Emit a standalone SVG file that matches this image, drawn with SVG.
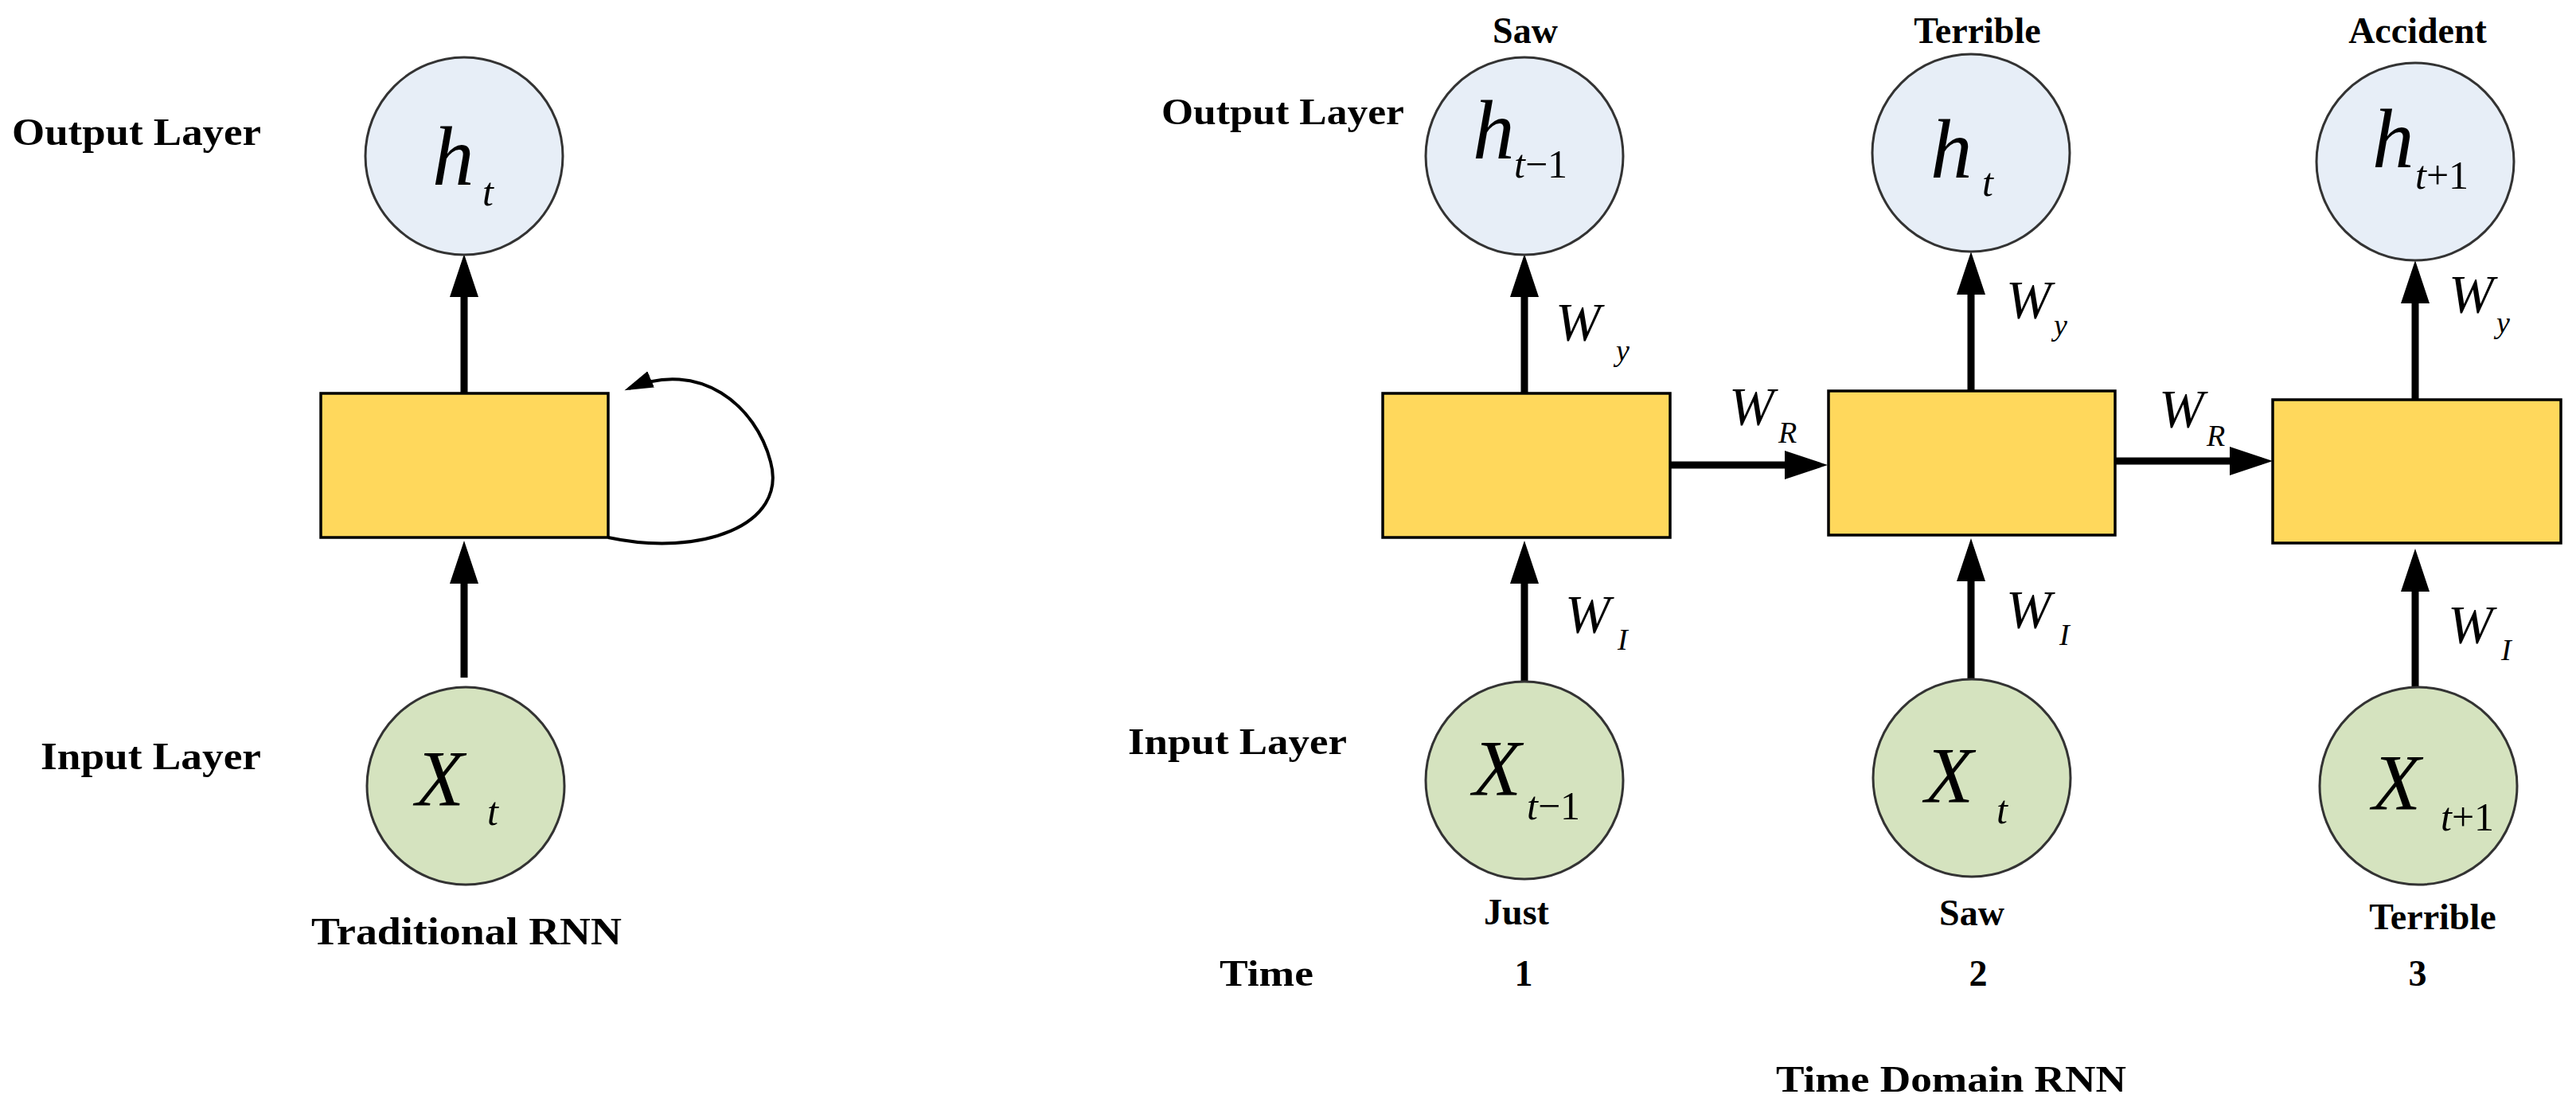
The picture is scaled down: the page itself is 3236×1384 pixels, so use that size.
<svg xmlns="http://www.w3.org/2000/svg" width="3236" height="1384" viewBox="0 0 3236 1384">
<style>
.lbl{font-family:"Liberation Serif",serif;font-weight:bold;fill:#000}
.m{font-family:"Liberation Serif",serif;font-style:italic;fill:#000}
.up{font-style:normal}
.out{fill:#E7EEF7;stroke:#333;stroke-width:3}
.in{fill:#D5E3BF;stroke:#333;stroke-width:3}
.box{fill:#FFD85C;stroke:#000;stroke-width:3.5}
.arr{stroke:#000;stroke-width:9;fill:none;marker-end:url(#ah)}
</style>
<defs>
<marker id="ah" markerUnits="userSpaceOnUse" markerWidth="60" markerHeight="40" refX="40" refY="18" orient="auto"><path d="M0,0 L54,18 L0,36 Z" fill="#000"/></marker>
<marker id="ah2" markerUnits="userSpaceOnUse" markerWidth="40" markerHeight="30" refX="30" refY="11" orient="auto"><path d="M0,0 L36,11 L0,22 Z" fill="#000"/></marker>
</defs>
<rect width="3236" height="1384" fill="#fff"/>
<g id="connectors">
<line class="arr" x1="583" y1="494" x2="583" y2="333"/>
<line class="arr" x1="583" y1="851" x2="583" y2="693"/>
<path d="M764,675 C880,700 990,660 968,580 C950,510 880,450 790,488" fill="none" stroke="#000" stroke-width="4" marker-end="url(#ah2)"/>
<line class="arr" x1="1915" y1="494" x2="1915" y2="333"/>
<line class="arr" x1="1915" y1="856" x2="1915" y2="693"/>
<line class="arr" x1="2476" y1="491" x2="2476" y2="330"/>
<line class="arr" x1="2476" y1="854" x2="2476" y2="690"/>
<line class="arr" x1="3034" y1="502" x2="3034" y2="341"/>
<line class="arr" x1="3034" y1="865" x2="3034" y2="703"/>
<line class="arr" x1="2098" y1="584" x2="2282" y2="584"/>
<line class="arr" x1="2657" y1="579" x2="2841" y2="579"/>
</g>
<g id="trad-out"><circle class="out" cx="583" cy="196" r="124"/><text class="m" x="543" y="232" font-size="105">h</text><text class="m" x="606" y="258" font-size="50">t</text></g>
<g id="trad-box"><rect class="box" x="403" y="494" width="361" height="181"/></g>
<g id="trad-in"><circle class="in" cx="585" cy="987" r="124"/><text class="m" x="522" y="1011" font-size="100">X</text><text class="m" x="612" y="1036" font-size="50">t</text></g>
<text class="lbl" x="15" y="182" font-size="48" textLength="313" lengthAdjust="spacingAndGlyphs">Output Layer</text>
<text class="lbl" x="51" y="966" font-size="48" textLength="277" lengthAdjust="spacingAndGlyphs">Input Layer</text>
<text class="lbl" x="391" y="1186" font-size="48" textLength="390" lengthAdjust="spacingAndGlyphs">Traditional RNN</text>

<text class="lbl" x="1459" y="156" font-size="46" textLength="305" lengthAdjust="spacingAndGlyphs">Output Layer</text>
<text class="lbl" x="1417" y="947" font-size="46" textLength="275" lengthAdjust="spacingAndGlyphs">Input Layer</text>
<text class="lbl" x="1532" y="1238" font-size="46" textLength="118" lengthAdjust="spacingAndGlyphs">Time</text>
<text class="lbl" x="2231" y="1371" font-size="46" textLength="440" lengthAdjust="spacingAndGlyphs">Time Domain RNN</text>

<g id="out1"><text class="lbl" x="1916" y="54" font-size="46" text-anchor="middle">Saw</text><circle class="out" cx="1915" cy="196" r="124"/><text class="m" x="1850" y="199" font-size="105">h</text><text class="m" x="1902" y="223" font-size="50">t<tspan class="up">−1</tspan></text></g>
<g id="out2"><text class="lbl" x="2484" y="54" font-size="46" text-anchor="middle">Terrible</text><circle class="out" cx="2476" cy="192" r="124"/><text class="m" x="2425" y="223" font-size="105">h</text><text class="m" x="2490" y="246" font-size="50">t</text></g>
<g id="out3"><text class="lbl" x="3037" y="54" font-size="46" text-anchor="middle">Accident</text><circle class="out" cx="3034" cy="203" r="124"/><text class="m" x="2980" y="210" font-size="105">h</text><text class="m" x="3034" y="237" font-size="50">t<tspan class="up">+1</tspan></text></g>

<g id="box1"><rect class="box" x="1737" y="494" width="361" height="181"/></g>
<g id="box2"><rect class="box" x="2297" y="491" width="360" height="181"/></g>
<g id="box3"><rect class="box" x="2855" y="502" width="362" height="180"/></g>

<g id="wlabels" class="m">
<text x="1954" y="427" font-size="68">W</text><text x="2030" y="453" font-size="38">y</text>
<text x="2520" y="399" font-size="68">W</text><text x="2580" y="421" font-size="38">y</text>
<text x="3076" y="392" font-size="68">W</text><text x="3136" y="418" font-size="38">y</text>
<text x="2172" y="533" font-size="68">W</text><text x="2234" y="556" font-size="38">R</text>
<text x="2712" y="536" font-size="68">W</text><text x="2772" y="560" font-size="38">R</text>
<text x="1966" y="794" font-size="68">W</text><text x="2032" y="816" font-size="38">I</text>
<text x="2520" y="788" font-size="68">W</text><text x="2587" y="810" font-size="38">I</text>
<text x="3075" y="807" font-size="68">W</text><text x="3142" y="829" font-size="38">I</text>
</g>

<g id="in1"><circle class="in" cx="1915" cy="980" r="124"/><text class="m" x="1850" y="998" font-size="100">X</text><text class="m" x="1918" y="1029" font-size="50">t<tspan class="up">−1</tspan></text><text class="lbl" x="1905" y="1161" font-size="46" text-anchor="middle">Just</text><text class="lbl" x="1914" y="1238" font-size="46" text-anchor="middle">1</text></g>
<g id="in2"><circle class="in" cx="2477" cy="977" r="124"/><text class="m" x="2418" y="1007" font-size="100">X</text><text class="m" x="2508" y="1034" font-size="50">t</text><text class="lbl" x="2477" y="1162" font-size="46" text-anchor="middle">Saw</text><text class="lbl" x="2485" y="1238" font-size="46" text-anchor="middle">2</text></g>
<g id="in3"><circle class="in" cx="3038" cy="987" r="124"/><text class="m" x="2980" y="1016" font-size="100">X</text><text class="m" x="3066" y="1043" font-size="50">t<tspan class="up">+1</tspan></text><text class="lbl" x="3056" y="1167" font-size="46" text-anchor="middle">Terrible</text><text class="lbl" x="3037" y="1238" font-size="46" text-anchor="middle">3</text></g>
</svg>
